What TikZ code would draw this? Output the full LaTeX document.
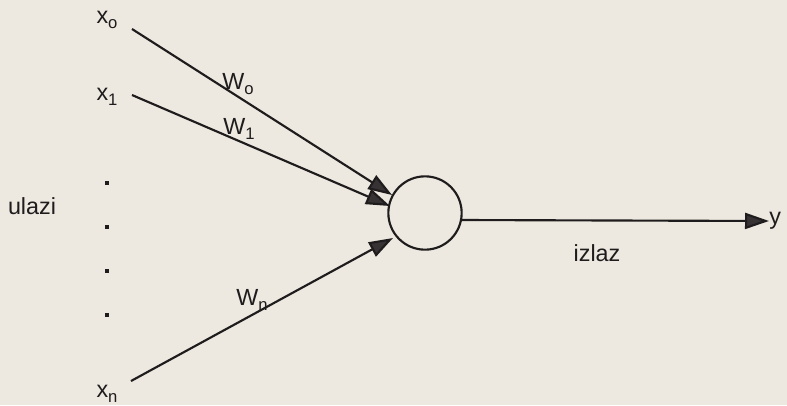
\documentclass[tikz,border=0pt]{standalone}
\usepackage{fontspec}
\setmainfont{Liberation Sans}
\usetikzlibrary{arrows.meta}
\definecolor{paper}{RGB}{237,232,224}
\definecolor{ink}{RGB}{30,28,28}
\definecolor{tip}{RGB}{55,50,52}
\newcommand{\lab}[2]{#1\raisebox{-0.4ex}{\fontsize{12.5}{13}\selectfont #2}}
\begin{document}
\begin{tikzpicture}[x=0.75pt,y=-0.75pt,
  txt/.style={inner sep=0pt,font=\fontsize{17.5}{19}\selectfont,text=ink},
  edge/.style={draw=ink,line width=1.6pt,-{Triangle[length=18pt,width=12pt,fill=tip]}},
  dotn/.style={fill=ink,minimum size=3.4pt,inner sep=0pt}]
\fill[paper] (0,0) rectangle (787,405);
\useasboundingbox (0,0) rectangle (787,405);
% labels
\node[txt] (x0) at (107,20) {\lab{x}{o}};
\node[txt] (x1) at (107,97) {\lab{x}{1}};
\node[txt] (xn) at (107,394) {\lab{x}{n}};
\node[txt] (ulazi) at (32,206) {ulazi};
\node[dotn] (d1) at (107,183) {};
\node[dotn] (d2) at (107,227) {};
\node[dotn] (d3) at (107,271) {};
\node[dotn] (d4) at (107,315) {};
% start points
\coordinate (s0) at (132,29);
\coordinate (s1) at (132,95);
\coordinate (sn) at (131,381);
% neuron
\node[draw=ink,line width=1.6pt,circle,minimum size=55pt,inner sep=0pt] (c) at (425,213) {};
\coordinate (t0) at (392,195);
\coordinate (t1) at (390,206);
\coordinate (tn) at (393,238);
\draw[edge] (s0) -- (t0);
\draw[edge] (s1) -- (t1);
\draw[edge] (sn) -- (tn);
% weights
\node[txt] (w0) at (238,84) {\lab{W}{o}};
\node[txt] (w1) at (239,129) {\lab{W}{1}};
\node[txt] (wn) at (252,300) {\lab{W}{n}};
% output
\coordinate (o) at (462,220);
\node[txt,anchor=west] (y) at (769,221) {y};
\draw[edge] (o) -- (y.west);
\node[txt] (izlaz) at (597,253) {izlaz};
\end{tikzpicture}
\end{document}
